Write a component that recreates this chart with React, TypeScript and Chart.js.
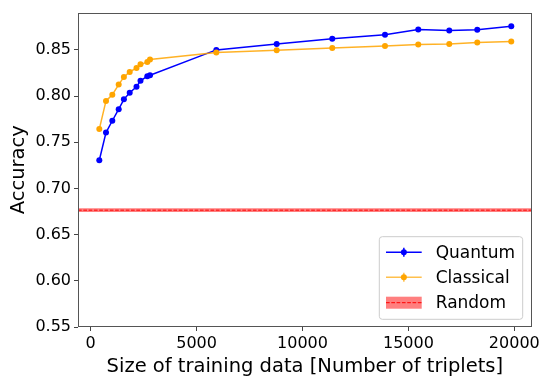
import React, { useEffect, useRef } from "react";
import { Chart, registerables } from "chart.js";

Chart.register(...registerables);

// ---- data ----
const trainSizes = [406, 722, 1020, 1322, 1567, 1841, 2162, 2351, 2672, 2800, 5930, 8781, 11406, 13894, 15466, 16930, 18252, 19857];
const quantumAcc = [0.7305, 0.7605, 0.7733, 0.7858, 0.7965, 0.8036, 0.8101, 0.8165, 0.8215, 0.8226, 0.8500, 0.8564, 0.8622, 0.8665, 0.8722, 0.8711, 0.8718, 0.8757];
const classicalAcc = [0.7643, 0.7948, 0.8015, 0.8125, 0.8208, 0.8261, 0.8304, 0.8344, 0.8368, 0.8397, 0.8472, 0.8497, 0.8521, 0.8543, 0.8558, 0.8564, 0.8579, 0.8590];
const randomAcc = 0.6765;
const randomErr = 0.002;
const xTicks = [0, 5000, 10000, 15000, 20000];
const yTicks = [0.55, 0.6, 0.65, 0.7, 0.75, 0.8, 0.85];
const xRange = [-600, 20822];
const yRange = [0.55, 0.8904];
const legendLabels = ["Quantum", "Classical", "Random"];

const FONT = "'DejaVu Sans', sans-serif";
const BLUE = "#0000ff";
const ORANGE = "#ffa500";

const framePlugin = {
  id: "frame",
  afterDraw(chart: any) {
    const { ctx, chartArea: a } = chart;
    ctx.save();
    ctx.strokeStyle = "#555555";
    ctx.lineWidth = 1;
    ctx.strokeRect(Math.round(a.left) + 0.5, Math.round(a.top) + 0.5, Math.round(a.right - a.left) - 1, Math.round(a.bottom - a.top) - 1);

    // legend
    const w = 143.4, h = 82.6;
    const bx = a.right - 9 - w;
    const by = a.bottom - 7.7 - h;
    ctx.beginPath();
    const r = 3;
    ctx.moveTo(bx + r, by);
    ctx.lineTo(bx + w - r, by);
    ctx.arcTo(bx + w, by, bx + w, by + r, r);
    ctx.lineTo(bx + w, by + h - r);
    ctx.arcTo(bx + w, by + h, bx + w - r, by + h, r);
    ctx.lineTo(bx + r, by + h);
    ctx.arcTo(bx, by + h, bx, by + h - r, r);
    ctx.lineTo(bx, by + r);
    ctx.arcTo(bx, by, bx + r, by, r);
    ctx.closePath();
    ctx.fillStyle = "rgba(255,255,255,0.8)";
    ctx.fill();
    ctx.strokeStyle = "#cccccc";
    ctx.lineWidth = 1;
    ctx.stroke();

    const rows = [15.6, 40.6, 66];
    const lx0 = bx + 6.7, lx1 = bx + 42.4, lxm = (lx0 + lx1) / 2;
    const colors = [BLUE, ORANGE];
    for (let i = 0; i < 2; i++) {
      const y = by + rows[i];
      ctx.strokeStyle = i === 0 ? BLUE : "rgba(255,165,0,0.7)";
      ctx.lineWidth = 1.5;
      ctx.beginPath();
      ctx.moveTo(lx0, y);
      ctx.lineTo(lx1, y);
      ctx.moveTo(lxm, y - 4.5);
      ctx.lineTo(lxm, y + 4.5);
      ctx.stroke();
      ctx.fillStyle = colors[i];
      ctx.beginPath();
      ctx.arc(lxm, y, 3, 0, Math.PI * 2);
      ctx.fill();
    }
    const ry = by + rows[2];
    ctx.fillStyle = "rgba(255,0,0,0.5)";
    ctx.fillRect(lx0, ry - 6, lx1 - lx0, 12);
    ctx.strokeStyle = "#ff0000";
    ctx.lineWidth = 1;
    ctx.setLineDash([3.7, 1.6]);
    ctx.beginPath();
    ctx.moveTo(lx0, ry);
    ctx.lineTo(lx1, ry);
    ctx.stroke();
    ctx.setLineDash([]);

    ctx.fillStyle = "#000000";
    ctx.font = `17px ${FONT}`;
    ctx.textBaseline = "middle";
    ctx.textAlign = "left";
    for (let i = 0; i < 3; i++) {
      ctx.fillText(legendLabels[i], bx + 56.4, by + rows[i] + 1);
    }
    ctx.restore();
  },
};

export default function App() {
  const ref = useRef<HTMLCanvasElement>(null);
  useEffect(() => {
    if (!ref.current) return;
    const chart = new Chart(ref.current, {
      type: "line",
      data: {
        datasets: [
          {
            label: "RandomLow",
            data: [{ x: xRange[0], y: randomAcc - randomErr }, { x: xRange[1], y: randomAcc - randomErr }],
            borderWidth: 0,
            pointRadius: 0,
            fill: false,
          },
          {
            label: "RandomHigh",
            data: [{ x: xRange[0], y: randomAcc + randomErr }, { x: xRange[1], y: randomAcc + randomErr }],
            borderWidth: 0,
            pointRadius: 0,
            backgroundColor: "rgba(255,0,0,0.5)",
            fill: "-1",
          },
          {
            label: "Random",
            data: [{ x: xRange[0], y: randomAcc }, { x: xRange[1], y: randomAcc }],
            borderColor: "#ff0000",
            borderWidth: 1,
            borderDash: [3.7, 1.6],
            pointRadius: 0,
            fill: false,
          },
          {
            label: "Classical",
            data: trainSizes.map((x, i) => ({ x, y: classicalAcc[i] })),
            borderColor: "rgba(255,165,0,0.85)",
            backgroundColor: ORANGE,
            borderWidth: 1.5,
            pointRadius: 3,
            pointBorderWidth: 0,
            fill: false,
          },
          {
            label: "Quantum",
            data: trainSizes.map((x, i) => ({ x, y: quantumAcc[i] })),
            borderColor: BLUE,
            backgroundColor: BLUE,
            borderWidth: 1.5,
            pointRadius: 3,
            pointBorderWidth: 0,
            fill: false,
          },
        ],
      },
      options: {
        responsive: false,
        animation: false,
        layout: { padding: { top: 9, right: 12.3, left: 0, bottom: 0 } },
        plugins: { legend: { display: false }, tooltip: { enabled: false } },
        scales: {
          x: {
            type: "linear",
            min: xRange[0],
            max: xRange[1],
            afterBuildTicks: (s: any) => { s.ticks = xTicks.map((v) => ({ value: v })); },
            afterFit: (s: any) => { s.height = 50; },
            grid: { drawOnChartArea: false, drawTicks: true, tickLength: 4, color: "#444444" },
            border: { display: false },
            ticks: {
              padding: 3,
              maxRotation: 0,
              color: "#000000",
              font: { family: FONT, size: 16 },
              callback: (v: any) => String(v),
            },
            title: {
              display: true,
              text: "Size of training data [Number of triplets]",
              color: "#000000",
              font: { family: FONT, size: 19.5 },
              padding: { top: 0, bottom: -2 },
            },
          },
          y: {
            type: "linear",
            min: yRange[0],
            max: yRange[1],
            afterBuildTicks: (s: any) => { s.ticks = yTicks.map((v) => ({ value: v })); },
            afterFit: (s: any) => { s.width = 78; },
            grid: { drawOnChartArea: false, drawTicks: true, tickLength: 4, color: "#444444" },
            border: { display: false },
            ticks: {
              padding: 3,
              color: "#000000",
              font: { family: FONT, size: 16 },
              callback: (v: any) => Number(v).toFixed(2),
            },
            title: {
              display: true,
              text: "Accuracy",
              color: "#000000",
              font: { family: FONT, size: 19.5 },
              padding: { top: 7, bottom: 0 },
            },
          },
        },
      },
      plugins: [framePlugin],
    } as any);
    return () => chart.destroy();
  }, []);
  return (
    <div style={{ position: "fixed", left: 0, top: 0, width: 544, height: 377, background: "#fff" }}>
      <canvas ref={ref} width={544} height={377} style={{ display: "block" }} />
    </div>
  );
}
